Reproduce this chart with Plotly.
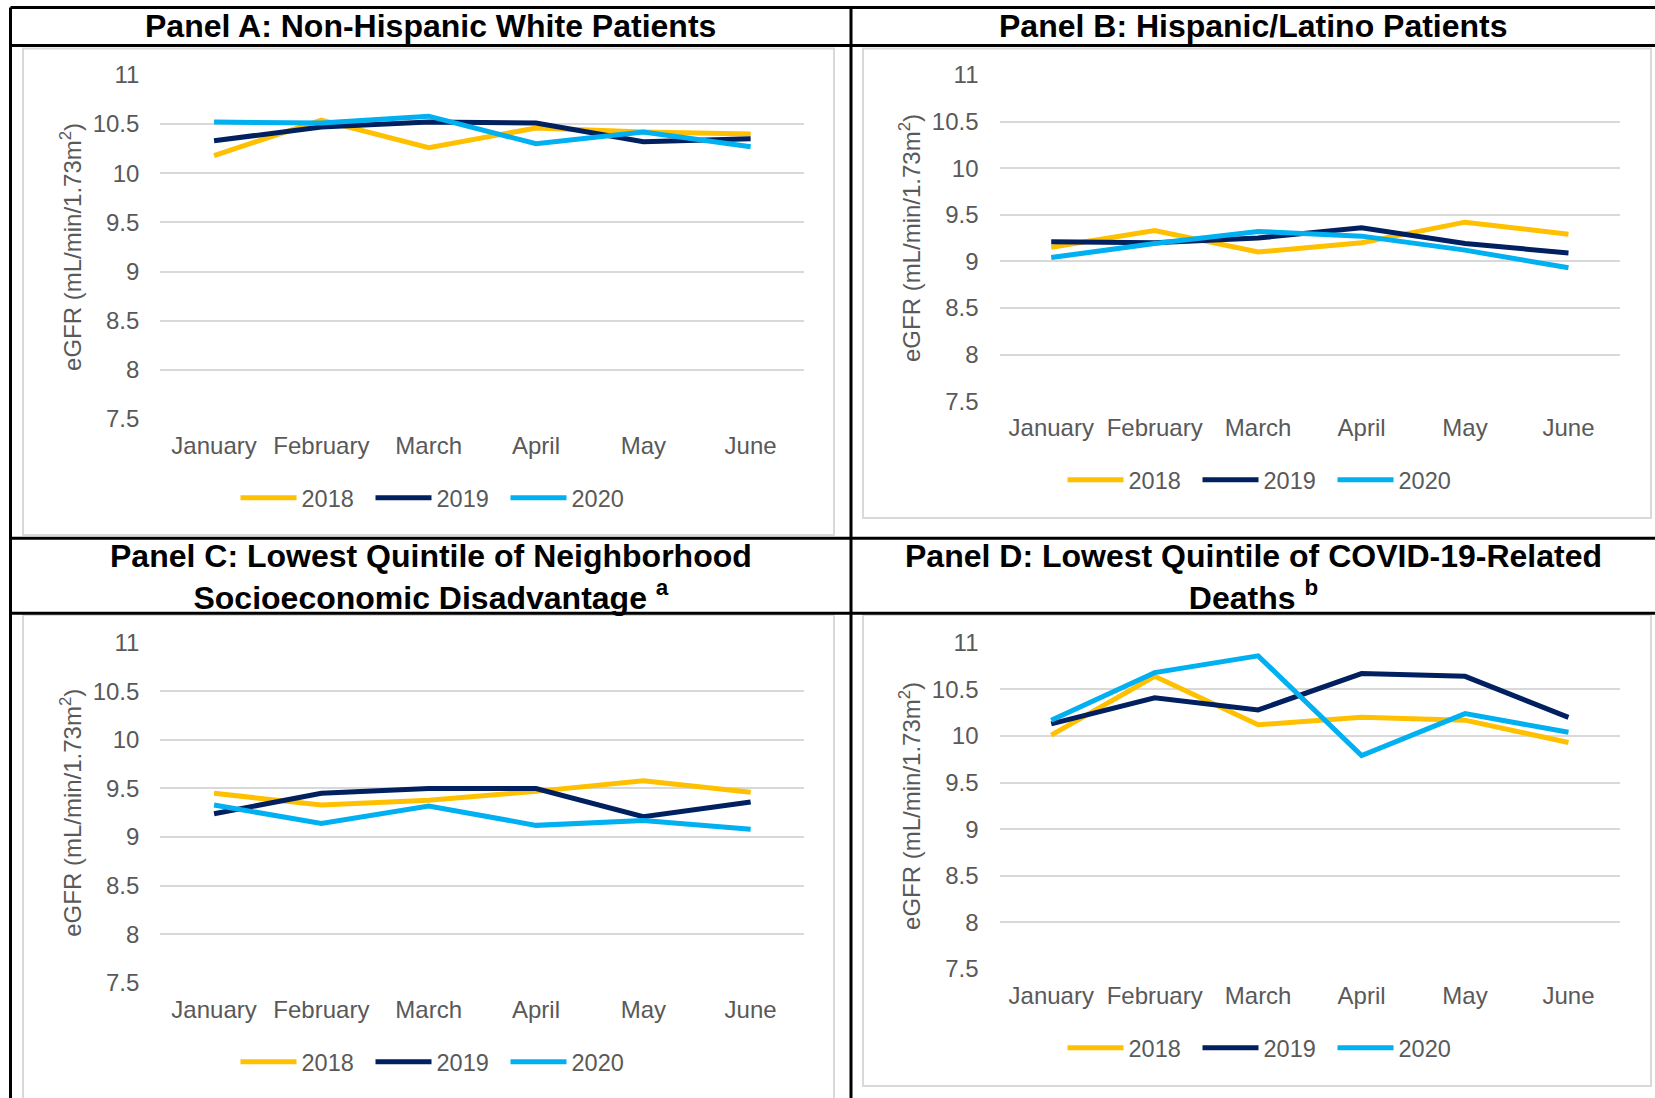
import plotly.graph_objects as go

months = ["January", "February", "March", "April", "May", "June"]
years = ["2018", "2019", "2020"]
year_colors = ["#FFC000", "#002060", "#00B0F0"]

panel_a = {
    "2018": [10.18, 10.54, 10.26, 10.46, 10.42, 10.40],
    "2019": [10.33, 10.47, 10.52, 10.51, 10.32, 10.35],
    "2020": [10.52, 10.51, 10.58, 10.30, 10.42, 10.27],
}
panel_b = {
    "2018": [9.15, 9.33, 9.10, 9.20, 9.42, 9.29],
    "2019": [9.21, 9.20, 9.25, 9.36, 9.19, 9.09],
    "2020": [9.04, 9.19, 9.32, 9.27, 9.12, 8.93],
}
panel_c = {
    "2018": [9.45, 9.33, 9.38, 9.47, 9.58, 9.46],
    "2019": [9.24, 9.45, 9.50, 9.50, 9.21, 9.36],
    "2020": [9.33, 9.14, 9.32, 9.12, 9.17, 9.08],
}
panel_d = {
    "2018": [10.01, 10.64, 10.12, 10.20, 10.17, 9.93],
    "2019": [10.13, 10.41, 10.28, 10.67, 10.64, 10.20],
    "2020": [10.17, 10.68, 10.86, 9.79, 10.24, 10.04],
}
panel_titles = [
    "<b>Panel A: Non-Hispanic White Patients</b>",
    "<b>Panel B: Hispanic/Latino Patients</b>",
    "<b>Panel C: Lowest Quintile of Neighborhood<br>Socioeconomic Disadvantage <sup>a</sup></b>",
    "<b>Panel D: Lowest Quintile of COVID-19-Related<br>Deaths <sup>b</sup></b>",
]
y_ticks = [7.5, 8, 8.5, 9, 9.5, 10, 10.5, 11]
y_title = "eGFR (mL/min/1.73m<sup>2</sup>)"

W, H = 1655, 1098
FONT = "Arial, Liberation Sans, sans-serif"
GRAY = "#595959"


def fx(px):
    return px / W


def fy(py):
    return 1 - py / H


# plot-area pixel boxes (left, right, top, bottom)
boxes = [
    (160.4, 804.3, 74.9, 419.0),
    (999.5, 1620.2, 74.9, 401.1),
    (160.4, 804.3, 642.8, 982.7),
    (999.5, 1620.2, 642.8, 969.0),
]
legend_pos = [(438, 498), (1265, 480), (438, 1062), (1265, 1048)]
data = [panel_a, panel_b, panel_c, panel_d]

fig = go.Figure()
layout = {}
for i, (panel, box) in enumerate(zip(data, boxes)):
    n = "" if i == 0 else str(i + 1)
    leg = "legend" if i == 0 else f"legend{i + 1}"
    for y, c in zip(years, year_colors):
        fig.add_trace(go.Scatter(
            x=months, y=panel[y], name=y, mode="lines",
            line=dict(color=c, width=5),
            xaxis="x" + n, yaxis="y" + n, legend=leg,
        ))
    l, r, t, b = box
    layout["xaxis" + n] = dict(
        domain=[fx(l), fx(r)], anchor="y" + n, type="category",
        categoryorder="array", categoryarray=months, automargin=False,
        range=[-0.5, 5.5], showgrid=False, zeroline=False, showline=False,
        ticks="", ticklabelstandoff=10,
        tickfont=dict(family=FONT, size=24, color=GRAY),
    )
    layout["yaxis" + n] = dict(
        domain=[fy(b), fy(t)], anchor="x" + n, range=[7.5, 11], automargin=False,
        tickvals=y_ticks, ticktext=[f"{v:g}" for v in y_ticks],
        showgrid=True, gridcolor="#D9D9D9", gridwidth=2,
        zeroline=False, showline=False, ticks="", ticklabelstandoff=20,
        tickfont=dict(family=FONT, size=24, color=GRAY),
        title=dict(text=y_title, standoff=4,
                   font=dict(family=FONT, size=24, color=GRAY)),
    )
    lx, ly = legend_pos[i]
    layout[leg] = dict(
        orientation="h", x=fx(lx), y=fy(ly), xanchor="center", yanchor="middle",
        font=dict(family=FONT, size=23.5, color=GRAY), bgcolor="rgba(0,0,0,0)",
        itemwidth=56, entrywidth=64, entrywidthmode="pixels", traceorder="normal",
    )

shapes = []
# light grey chart frames
for (x0, x1, y0, y1) in [(23, 834, 48.5, 535), (863, 1651, 48.5, 518),
                         (23, 834, 615, 1110), (863, 1651, 615, 1086)]:
    shapes.append(dict(type="rect", xref="paper", yref="paper",
                       x0=fx(x0), x1=fx(x1), y0=fy(y1), y1=fy(y0),
                       line=dict(color="#D9D9D9", width=2), layer="below"))
# black table borders
for yy in [7.4, 45.4, 538.3, 613.3]:
    shapes.append(dict(type="line", xref="paper", yref="paper",
                       x0=fx(10.5), x1=fx(1655), y0=fy(yy), y1=fy(yy),
                       line=dict(color="black", width=3)))
for xx in [10.5, 851]:
    shapes.append(dict(type="line", xref="paper", yref="paper",
                       x0=fx(xx), x1=fx(xx), y0=fy(7.4), y1=fy(1100),
                       line=dict(color="black", width=3)))

annotations = []
title_pos = [(430.7, 26.4), (1253, 26.4), (430.7, 576.5), (1253, 576.5)]
for txt, (tx, ty) in zip(panel_titles, title_pos):
    annotations.append(dict(text=txt, xref="paper", yref="paper",
                            x=fx(tx), y=fy(ty), xanchor="center", yanchor="middle",
                            showarrow=False,
                            font=dict(family=FONT, size=32, color="black")))

fig.update_layout(
    width=W, height=H, margin=dict(l=0, r=0, t=0, b=0, autoexpand=False),
    paper_bgcolor="white", plot_bgcolor="white",
    shapes=shapes, annotations=annotations, **layout,
)
fig.write_html("out.html", config={"displayModeBar": False},
               post_script="document.body.style.margin='0px';")
